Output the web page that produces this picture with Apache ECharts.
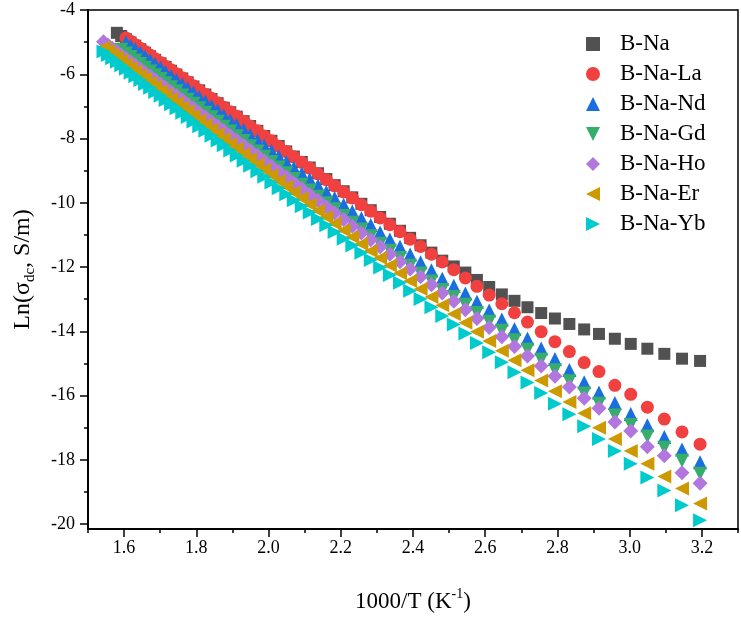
<!DOCTYPE html>
<html>
<head>
<meta charset="utf-8">
<title>Ln(sigma_dc) vs 1000/T</title>
<script src="https://cdn.jsdelivr.net/npm/echarts@6/dist/echarts.min.js"></script>
<style>
    * { margin: 0; padding: 0; }
    html, body { width: 100%; height: 100%; overflow: hidden; background: #fff; }
    #main { width: 741px; height: 622px; }
</style>
</head>
<body>
<div id="main"></div>
<script>
// 1000/T, T = 653 K down to 313 K in 5 K steps
const invT = [
    1.531, 1.543, 1.555, 1.567, 1.580, 1.592, 1.605, 1.618, 1.631, 1.645,
    1.658, 1.672, 1.686, 1.701, 1.715, 1.730, 1.745, 1.761, 1.776, 1.792,
    1.808, 1.825, 1.842, 1.859, 1.876, 1.894, 1.912, 1.931, 1.949, 1.969,
    1.988, 2.008, 2.028, 2.049, 2.070, 2.092, 2.114, 2.137, 2.160, 2.183,
    2.208, 2.232, 2.257, 2.283, 2.309, 2.336, 2.364, 2.392, 2.421, 2.451,
    2.481, 2.513, 2.545, 2.577, 2.611, 2.646, 2.681, 2.717, 2.755, 2.793,
    2.833, 2.874, 2.915, 2.959, 3.003, 3.049, 3.096, 3.145, 3.195
];

const names = ['B-Na', 'B-Na-La', 'B-Na-Nd', 'B-Na-Gd', 'B-Na-Ho', 'B-Na-Er', 'B-Na-Yb'];
const colors = ['#515151', '#F14040', '#1A6FDF', '#37AD6B', '#B177DE', '#CC9900', '#00CBCC'];

// Ln(sigma_dc), one value per 1000/T point (null = not measured)
const bNa = [
    null, null, null, null, -4.71, -4.81, -4.91, -5.01, -5.11, -5.22,
    -5.33, -5.44, -5.55, -5.66, -5.77, -5.89, -6.01, -6.13, -6.25, -6.38,
    -6.50, -6.63, -6.77, -6.90, -7.04, -7.18, -7.32, -7.46, -7.61, -7.76,
    -7.92, -8.07, -8.23, -8.40, -8.56, -8.73, -8.90, -9.08, -9.26, -9.45,
    -9.64, -9.83, -10.03, -10.23, -10.44, -10.65, -10.87, -11.09, -11.32, -11.55,
    -11.80, -11.98, -12.17, -12.40, -12.62, -12.85, -13.05, -13.25, -13.43, -13.60,
    -13.77, -13.94, -14.08, -14.23, -14.39, -14.54, -14.70, -14.85, -14.92
];
const bNaLa = [
    null, null, null, null, null, null, -4.87, -4.97, -5.08, -5.19,
    -5.29, -5.40, -5.52, -5.63, -5.75, -5.86, -5.98, -6.11, -6.23, -6.36,
    -6.49, -6.62, -6.75, -6.89, -7.03, -7.17, -7.31, -7.46, -7.61, -7.76,
    -7.92, -8.07, -8.24, -8.40, -8.57, -8.74, -8.92, -9.10, -9.28, -9.47,
    -9.66, -9.85, -10.06, -10.26, -10.47, -10.68, -10.90, -11.13, -11.36, -11.60,
    -11.84, -12.08, -12.34, -12.60, -12.87, -13.14, -13.42, -13.71, -14.01, -14.32,
    -14.63, -14.97, -15.25, -15.68, -15.96, -16.36, -16.73, -17.13, -17.51
];
const bNaNd = [
    null, null, null, null, null, null, -5.00, -5.11, -5.22, -5.33,
    -5.45, -5.56, -5.68, -5.80, -5.93, -6.05, -6.18, -6.31, -6.44, -6.57,
    -6.71, -6.85, -6.99, -7.13, -7.28, -7.43, -7.58, -7.73, -7.89, -8.05,
    -8.22, -8.38, -8.55, -8.73, -8.91, -9.09, -9.27, -9.46, -9.66, -9.85,
    -10.06, -10.27, -10.48, -10.69, -10.92, -11.14, -11.37, -11.61, -11.85, -12.10,
    -12.36, -12.58, -12.82, -13.08, -13.35, -13.63, -13.93, -14.22, -14.53, -14.86,
    -15.20, -15.58, -15.90, -16.23, -16.57, -16.92, -17.29, -17.68, -18.07
];
const bNaGd = [
    null, null, null, null, null, -5.24, -5.35, -5.46, -5.57, -5.68,
    -5.80, -5.91, -6.03, -6.15, -6.28, -6.40, -6.53, -6.66, -6.79, -6.92,
    -7.06, -7.20, -7.34, -7.48, -7.63, -7.78, -7.93, -8.08, -8.24, -8.40,
    -8.57, -8.73, -8.90, -9.08, -9.26, -9.44, -9.62, -9.81, -10.01, -10.20,
    -10.41, -10.62, -10.83, -11.04, -11.27, -11.49, -11.72, -11.96, -12.20, -12.45,
    -12.71, -12.93, -13.17, -13.43, -13.70, -13.98, -14.28, -14.57, -14.88, -15.21,
    -15.55, -15.93, -16.25, -16.62, -16.91, -17.27, -17.62, -18.03, -18.43
];
const bNaHo = [
    null, -4.99, -5.09, -5.19, -5.29, -5.40, -5.51, -5.61, -5.72, -5.84,
    -5.95, -6.06, -6.18, -6.30, -6.42, -6.55, -6.67, -6.80, -6.93, -7.06,
    -7.20, -7.34, -7.48, -7.62, -7.76, -7.91, -8.06, -8.22, -8.37, -8.53,
    -8.70, -8.86, -9.03, -9.20, -9.38, -9.56, -9.75, -9.93, -10.13, -10.32,
    -10.52, -10.73, -10.94, -11.15, -11.37, -11.60, -11.83, -12.06, -12.30, -12.55,
    -12.81, -13.06, -13.33, -13.60, -13.88, -14.17, -14.47, -14.77, -15.08, -15.40,
    -15.73, -16.08, -16.39, -16.82, -17.10, -17.59, -17.87, -18.40, -18.73
];
const bNaEr = [
    null, -5.17, -5.27, -5.38, -5.48, -5.59, -5.70, -5.81, -5.92, -6.04,
    -6.15, -6.27, -6.39, -6.52, -6.64, -6.77, -6.90, -7.03, -7.16, -7.30,
    -7.44, -7.58, -7.72, -7.87, -8.02, -8.17, -8.32, -8.48, -8.64, -8.81,
    -8.97, -9.14, -9.32, -9.49, -9.68, -9.86, -10.05, -10.25, -10.44, -10.64,
    -10.85, -11.06, -11.28, -11.50, -11.72, -11.95, -12.19, -12.43, -12.68, -12.93,
    -13.19, -13.46, -13.73, -14.01, -14.30, -14.60, -14.90, -15.21, -15.53, -15.86,
    -16.20, -16.55, -17.00, -17.35, -17.72, -18.12, -18.52, -18.89, -19.36
];
const bNaYb = [
    null, -5.29, -5.40, -5.50, -5.61, -5.72, -5.83, -5.95, -6.06, -6.18,
    -6.30, -6.42, -6.55, -6.67, -6.80, -6.93, -7.06, -7.20, -7.33, -7.47,
    -7.62, -7.76, -7.91, -8.06, -8.21, -8.37, -8.53, -8.69, -8.85, -9.02,
    -9.19, -9.37, -9.55, -9.73, -9.92, -10.11, -10.30, -10.50, -10.70, -10.91,
    -11.12, -11.33, -11.55, -11.78, -12.01, -12.25, -12.49, -12.74, -12.99, -13.25,
    -13.52, -13.79, -14.07, -14.36, -14.65, -14.96, -15.27, -15.59, -15.92, -16.25,
    -16.58, -16.95, -17.35, -17.72, -18.12, -18.55, -18.95, -19.41, -19.88
];

const xTicks = [1.6, 1.8, 2.0, 2.2, 2.4, 2.6, 2.8, 3.0, 3.2];
const xMinor = [1.5, 1.7, 1.9, 2.1, 2.3, 2.5, 2.7, 2.9, 3.1, 3.3];
const yTicks = [-4, -6, -8, -10, -12, -14, -16, -18, -20];
const yMinor = [-5, -7, -9, -11, -13, -15, -17, -19];

const allY = [bNa, bNaLa, bNaNd, bNaGd, bNaHo, bNaEr, bNaYb];
const symbols = ['rect', 'circle', 'triangle', 'triangle', 'diamond', 'triangle', 'triangle'];
const rotates = [0, 0, 0, 180, 0, 90, -90];
const sizes = [12, 13, 14, 14, 15, 14, 14];
// legend icons (legend does not follow symbolRotate)
const legendIcons = [
    'rect', 'circle', 'triangle',
    'path://M0,0 L10,0 L5,10 Z',
    'diamond',
    'path://M10,0 L10,10 L0,5 Z',
    'path://M0,0 L0,10 L10,5 Z'
];

const serif = '"Liberation Serif", "Times New Roman", serif';

let series = names.map((name, k) => ({
    name: name,
    type: 'scatter',
    symbol: symbols[k],
    symbolRotate: rotates[k],
    symbolSize: sizes[k],
    itemStyle: { color: colors[k], opacity: 1 },
    data: invT.map((x, i) => [x, allY[k][i]]).filter(p => p[1] !== null)
}));

let axisCommon = {
    axisLine: { show: true, lineStyle: { color: '#000', width: 1.5 } },
    splitLine: { show: false }
};

let myChart = echarts.init(document.getElementById('main'));
let option = {
    animation: false,
    backgroundColor: '#fff',
    grid: {
        left: 85, right: 3, top: 10, bottom: 88,
        show: true, borderColor: '#000', borderWidth: 1.5
    },
    legend: {
        orient: 'vertical',
        left: 581,
        top: 27,
        itemWidth: 14,
        itemHeight: 14,
        itemGap: 6,
        data: names.map((n, k) => ({ name: n, icon: legendIcons[k] })),
        textStyle: { fontFamily: serif, fontSize: 23, color: '#000', lineHeight: 24, padding: [0, 0, 0, 15] }
    },
    xAxis: [
        Object.assign({}, axisCommon, {
            type: 'value', min: 1.5, max: 3.3, position: 'bottom',
            name: '1000/T (K{sup|-1})',
            nameLocation: 'middle', nameGap: 58,
            nameTextStyle: {
                fontFamily: serif, fontSize: 23, color: '#000', lineHeight: 30,
                rich: { sup: { fontFamily: serif, fontSize: 14, verticalAlign: 'top', lineHeight: 14, color: '#000' } }
            },
            axisTick: { show: true, inside: false, length: 8, customValues: xTicks, lineStyle: { color: '#000', width: 1.5 } },
            axisLabel: {
                customValues: xTicks, margin: 10, color: '#000', fontFamily: serif, fontSize: 18,
                formatter: v => v.toFixed(1)
            }
        }),
        Object.assign({}, axisCommon, {
            type: 'value', min: 1.5, max: 3.3, position: 'bottom', offset: 0,
            axisTick: { show: true, inside: false, length: 4, customValues: xMinor, lineStyle: { color: '#000', width: 1.5 } },
            axisLabel: { show: false }
        })
    ],
    yAxis: [
        Object.assign({}, axisCommon, {
            type: 'value', min: -20.15, max: -4, position: 'left',
            name: 'Ln(σ{sub|dc}, S/m)',
            nameLocation: 'middle', nameGap: 50, nameRotate: 90,
            nameTextStyle: {
                fontFamily: serif, fontSize: 24, color: '#000', lineHeight: 30,
                rich: { sub: { fontFamily: serif, fontSize: 15, verticalAlign: 'bottom', lineHeight: 15, color: '#000' } }
            },
            axisTick: { show: true, inside: false, length: 8, customValues: yTicks, lineStyle: { color: '#000', width: 1.5 } },
            axisLabel: { customValues: yTicks, margin: 13, color: '#000', fontFamily: serif, fontSize: 18 }
        }),
        Object.assign({}, axisCommon, {
            type: 'value', min: -20.15, max: -4, position: 'left', offset: 0,
            axisTick: { show: true, inside: false, length: 4, customValues: yMinor, lineStyle: { color: '#000', width: 1.5 } },
            axisLabel: { show: false }
        })
    ],
    series: series
};
myChart.setOption(option);
</script>
</body>
</html>
